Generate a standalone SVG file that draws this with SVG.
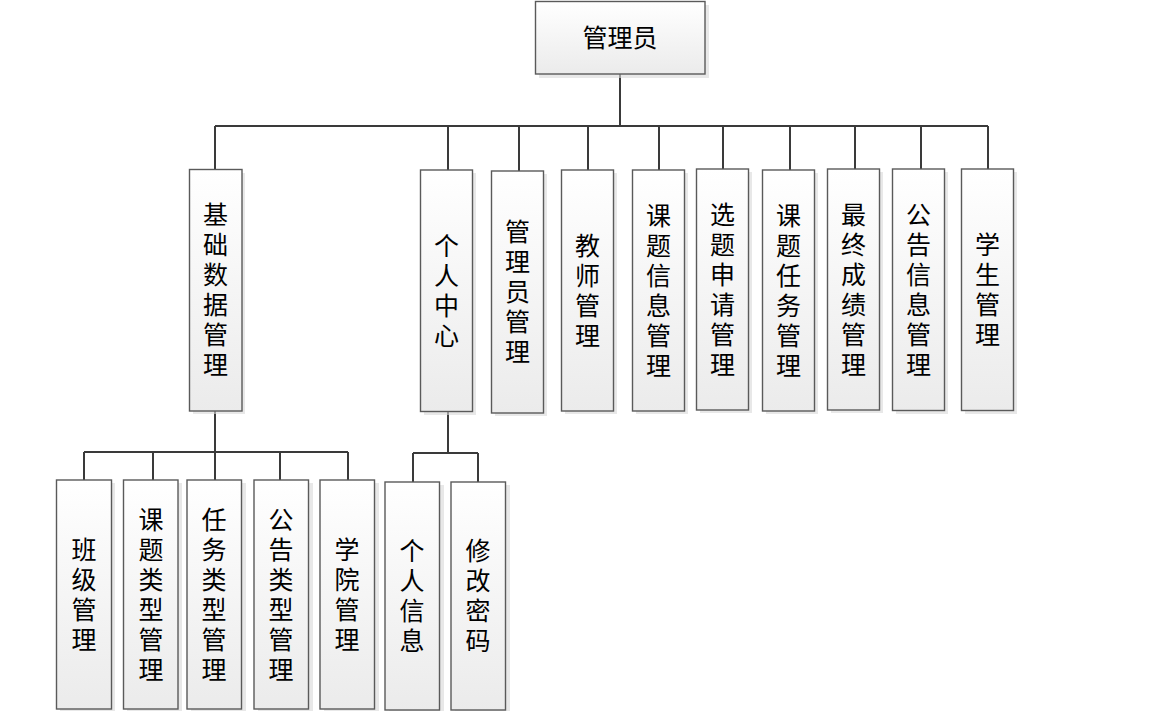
<svg xmlns="http://www.w3.org/2000/svg" width="1162" height="711" viewBox="0 0 1162 711">
<defs>
<linearGradient id="g" x1="0" y1="0" x2="0" y2="1">
<stop offset="0" stop-color="#ffffff"/>
<stop offset="1" stop-color="#ebebeb"/>
</linearGradient>
<style>
.box{fill:url(#g);stroke:#5a5a5a;stroke-width:1.4}
.sh{fill:#d9d9d9;opacity:0.6}
.t{font-family:"Noto Sans CJK SC","Microsoft YaHei",sans-serif;font-size:25px;fill:#000;text-anchor:middle}
.v{font-family:"Noto Sans CJK SC","Microsoft YaHei",sans-serif;font-size:25px;fill:#000;text-anchor:middle;writing-mode:vertical-rl;letter-spacing:5px}
.c{fill:none;stroke:#3a3a3a;stroke-width:2}
</style>
</defs>
<rect width="1162" height="711" fill="#fff"/>
<g id="connectors">
<path class="c" d="M620,74V126M215,126H988M215,126V170M448,126V170M519,126V171M588,126V170M659,126V170M723,126V170M790,126V170M855,126V170M921,126V169M988,126V169"/>
<path class="c" d="M215,411V452M84,452H348M84,452V480M153,452V480M215,452V480M280,452V480M348,452V480"/>
<path class="c" d="M448,412V453M413,453H478M413,453V482M478,453V482"/>
</g>
<g id="admin"><rect class="sh" x="539" y="5" width="170" height="73"/><rect class="box" x="535.5" y="1.5" width="169.5" height="72.5"/><text class="t" x="620" y="47">管理员</text></g>

<g id="n_basic"><rect class="sh" x="193" y="173" width="52" height="241"/><rect class="box" x="189.5" y="169.5" width="52.5" height="241.5"/>
<text class="v" x="215.5" y="292">基础数据管理</text></g>

<g id="n_personal"><rect class="sh" x="424" y="173" width="52" height="242"/><rect class="box" x="420.5" y="170" width="52" height="241.5"/>
<text class="v" x="446.5" y="293">个人中心</text></g>

<g id="n_adminmgr"><rect class="sh" x="495" y="174" width="52" height="242"/><rect class="box" x="491.5" y="171" width="52" height="242"/>
<text class="v" x="517.5" y="294">管理员管理</text></g>

<g id="n_teacher"><rect class="sh" x="565" y="173" width="52" height="241"/><rect class="box" x="561.5" y="170" width="52" height="241"/>
<text class="v" x="587.5" y="293">教师管理</text></g>

<g id="n_topic"><rect class="sh" x="636" y="173" width="52" height="241"/><rect class="box" x="632.5" y="170" width="52" height="241"/>
<text class="v" x="658.5" y="293">课题信息管理</text></g>

<g id="n_select"><rect class="sh" x="700" y="172" width="52" height="241"/><rect class="box" x="696.5" y="169" width="52" height="241"/>
<text class="v" x="722.5" y="292">选题申请管理</text></g>

<g id="n_task"><rect class="sh" x="766" y="173" width="52" height="241"/><rect class="box" x="762.5" y="170" width="52" height="241"/>
<text class="v" x="788.5" y="293">课题任务管理</text></g>

<g id="n_score"><rect class="sh" x="831" y="172" width="52" height="241"/><rect class="box" x="827.5" y="169" width="52" height="241"/>
<text class="v" x="853.5" y="292">最终成绩管理</text></g>

<g id="n_notice"><rect class="sh" x="896" y="172" width="52" height="242"/><rect class="box" x="892.5" y="169" width="52" height="241.5"/>
<text class="v" x="918.5" y="292">公告信息管理</text></g>

<g id="n_student"><rect class="sh" x="965" y="172" width="52" height="242"/><rect class="box" x="961.5" y="169" width="52" height="241.5"/>
<text class="v" x="987.5" y="292">学生管理</text></g>

<g id="n_class"><rect class="sh" x="60" y="483" width="55" height="230"/><rect class="box" x="56.5" y="480" width="55" height="229"/>
<text class="v" x="84" y="597">班级管理</text></g>

<g id="n_topictype"><rect class="sh" x="127" y="483" width="55" height="230"/><rect class="box" x="123.5" y="480" width="54.5" height="229"/>
<text class="v" x="151" y="597">课题类型管理</text></g>

<g id="n_tasktype"><rect class="sh" x="191" y="483" width="55" height="230"/><rect class="box" x="187" y="480" width="54.5" height="229"/>
<text class="v" x="214" y="597">任务类型管理</text></g>

<g id="n_noticetype"><rect class="sh" x="258" y="483" width="55" height="230"/><rect class="box" x="254" y="480" width="54.5" height="229"/>
<text class="v" x="281" y="597">公告类型管理</text></g>

<g id="n_college"><rect class="sh" x="324" y="483" width="55" height="230"/><rect class="box" x="320" y="480" width="54.5" height="229"/>
<text class="v" x="347" y="597">学院管理</text></g>

<g id="n_info"><rect class="sh" x="389" y="485" width="55" height="230"/><rect class="box" x="385" y="482" width="54.5" height="228"/>
<text class="v" x="412" y="598">个人信息</text></g>

<g id="n_pwd"><rect class="sh" x="455" y="485" width="55" height="230"/><rect class="box" x="451" y="482" width="54.5" height="228"/>
<text class="v" x="478" y="598">修改密码</text></g>
</svg>
